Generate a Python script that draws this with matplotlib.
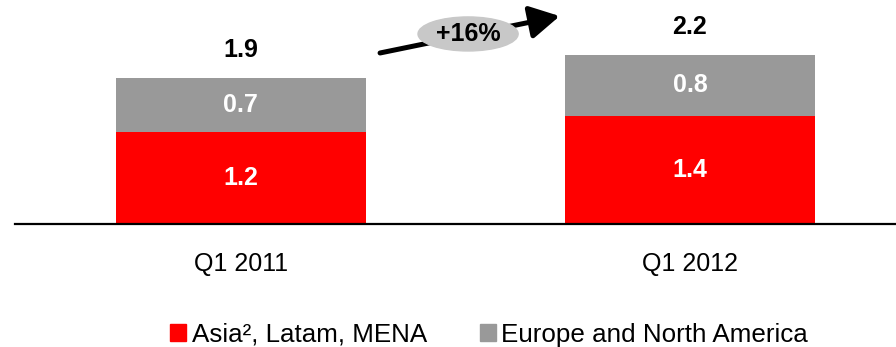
import matplotlib.pyplot as plt
from matplotlib.patches import Ellipse, Patch

plt.rcParams['font.family'] = ['Liberation Sans', 'DejaVu Sans']

quarters = ['Q1 2011', 'Q1 2012']
asia_latam_mena = [1.2, 1.4]
europe_na = [0.7, 0.8]
totals = [1.9, 2.2]
growth_label = '+16%'
series_names = ['Asia\u00b2, Latam, MENA', 'Europe and North America']

red = '#ff0000'
gray = '#999999'

fig = plt.figure(figsize=(8.96, 3.47), dpi=100)
ax = fig.add_axes([15 / 896, 123 / 347, 881 / 896, 224 / 347])

x = range(len(quarters))
ax.bar(x, asia_latam_mena, width=0.557, color=red)
ax.bar(x, europe_na, width=0.557, bottom=asia_latam_mena, color=gray)

for i in x:
    ax.text(i, asia_latam_mena[i] / 2, f'{asia_latam_mena[i]:.1f}', ha='center', va='center',
            color='white', fontsize=18, fontweight='bold')
    ax.text(i, asia_latam_mena[i] + europe_na[i] / 2, f'{europe_na[i]:.1f}', ha='center', va='center',
            color='white', fontsize=18, fontweight='bold')
    ax.annotate(f'{totals[i]:.1f}', (i, totals[i]), xytext=(0, 20), textcoords='offset points',
                ha='center', va='center', fontsize=18, fontweight='bold')

# growth arrow with the percentage bubble
ax.annotate('', xy=(0.71, 2.70), xytext=(0.310, 2.221),
            arrowprops=dict(arrowstyle='-|>,head_length=0.9,head_width=0.5', lw=3.6,
                            color='black', shrinkA=0, shrinkB=0, mutation_scale=20))
ax.add_patch(Ellipse((0.506, 2.468), 0.223, 0.442, color='#c8c8c8', zorder=3))
ax.text(0.506, 2.468, growth_label, ha='center', va='center', fontsize=18,
        fontweight='bold', zorder=4)

ax.set_xlim(-0.503, 1.459)
ax.set_ylim(0, 2.909)
ax.set_xticks(list(x))
ax.set_xticklabels(quarters, fontsize=18)
ax.tick_params(axis='x', length=0, pad=20)
ax.set_yticks([])
for side in ['top', 'right', 'left']:
    ax.spines[side].set_visible(False)
ax.spines['bottom'].set_linewidth(1.6)

handles = [Patch(color=red), Patch(color=gray)]
fig.legend(handles, series_names, loc='lower left', bbox_to_anchor=(147 / 896, -0.066),
           ncol=2, frameon=False, fontsize=18.7, handlelength=0.6, handleheight=0.65,
           handletextpad=0.22, columnspacing=2.05)

fig.savefig('out.png', dpi=100)
